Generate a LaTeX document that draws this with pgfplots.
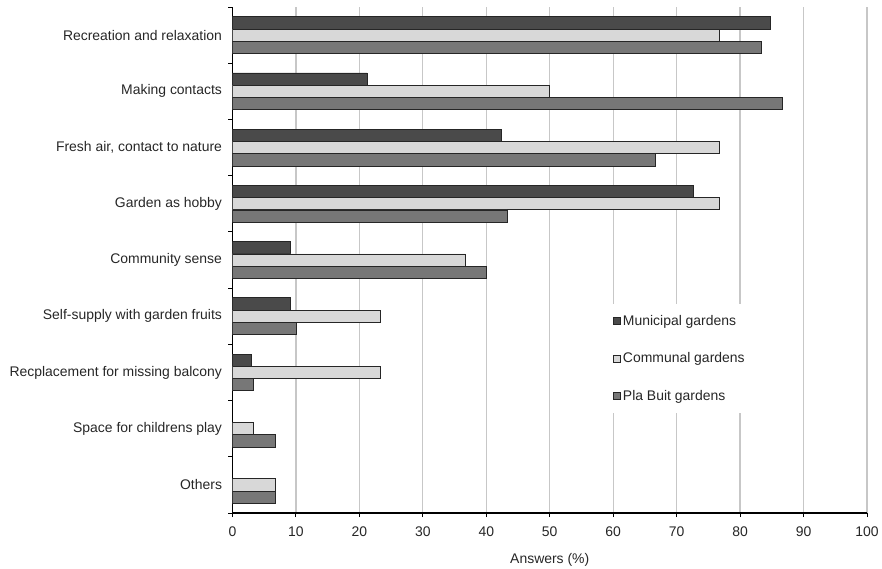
\documentclass[border=0pt]{standalone}
\usepackage{pgfplots}
\pgfplotsset{compat=1.18}
\usepackage{pgfplotstable}
\usepackage{fontspec}
\setmainfont{Liberation Sans}

\definecolor{muni}{HTML}{4A4A4A}
\definecolor{comm}{HTML}{D8D8D8}
\definecolor{pla}{HTML}{777777}

% y = category position (8 = top), nan = no bar
\pgfplotstableread{
y muni comm pla
8 84.8 76.7 83.3
7 21.2 50.0 86.7
6 42.4 76.7 66.7
5 72.7 76.7 43.3
4 9.1  36.7 40.0
3 9.1  23.3 10.0
2 3.0  23.3 3.3
1 nan  3.3  6.7
0 nan  6.7  6.7
}\answers

\begin{document}
\begin{tikzpicture}
\useasboundingbox (-232.5bp,-56bp) rectangle (649.5bp,513bp);
\begin{axis}[
    scale only axis,
    width=634.5bp, height=506bp,
    xmin=0, xmax=100, ymin=-0.5, ymax=8.5,
    axis x line*=bottom, axis y line*=left,
    axis line style={line width=1.3bp, black},
    tick align=outside,
    major tick length=4bp,
    tick style={black, line width=1bp},
    xtick={0,10,...,100},
    ytick={-0.5,0.5,...,8.5},
    yticklabels={,Others,Space for childrens play,Recplacement for missing balcony,Self-supply with garden fruits,Community sense,Garden as hobby,{Fresh air, contact to nature},Making contacts,Recreation and relaxation},
    yticklabel style={yshift=-28.1bp, xshift=-3bp},
    xticklabel style={yshift=-6bp},
    /pgf/number format/assume math mode=true,
    font=\fontsize{14}{16}\selectfont,
    ticklabel style={font=\fontsize{14}{16}\selectfont, text=black!85},
    xmajorgrids,
    grid style={draw=black!22, line width=1.3bp},
    xlabel={Answers (\%)},
    xlabel style={font=\fontsize{14}{16}\selectfont, text=black!85, yshift=-10bp},
    xbar,
    bar width=12.2bp,
    legend cell align=left,
    legend style={at={(rel axis cs:0.587,0.413)}, anchor=north west,
        draw=none, fill=white, inner xsep=8bp, inner ysep=10bp,
        row sep=24bp, column sep=1bp,
        nodes={inner sep=1bp},
        text=black!85,
        font=\fontsize{14}{16}\selectfont},
    legend image code/.code={\draw[#1, draw=black!85, line width=0.8bp] (0bp,-3.5bp) rectangle (7bp,3.5bp);},
]
\addplot[fill=muni, draw=black!85, line width=0.8bp, bar shift=12.3bp] table[x=muni, y=y] {\answers};
\addlegendentry{Municipal gardens}
\addplot[fill=comm, draw=black!85, line width=0.8bp, bar shift=0bp] table[x=comm, y=y] {\answers};
\addlegendentry{Communal gardens}
\addplot[fill=pla, draw=black!85, line width=0.8bp, bar shift=-12.3bp] table[x=pla, y=y] {\answers};
\addlegendentry{Pla Buit gardens}
\end{axis}
\end{tikzpicture}
\end{document}
